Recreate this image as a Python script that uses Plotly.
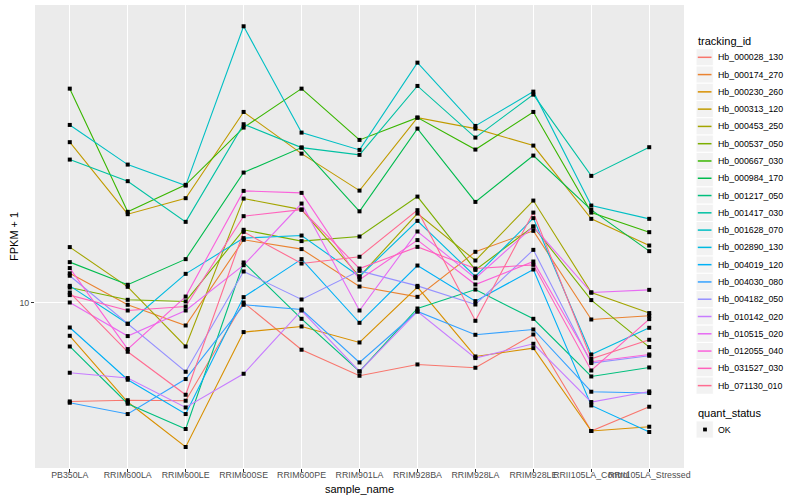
import plotly.graph_objects as go

# ---------------- data ----------------
samples = ["PB350LA", "RRIM600LA", "RRIM600LE", "RRIM600SE", "RRIM600PE", "RRIM901LA",
           "RRIM928BA", "RRIM928LA", "RRIM928LE", "RRII105LA_Control", "RRII105LA_Stressed"]

tracking_ids = ["Hb_000028_130", "Hb_000174_270", "Hb_000230_260", "Hb_000313_120", "Hb_000453_250",
                "Hb_000537_050", "Hb_000667_030", "Hb_000984_170", "Hb_001217_050", "Hb_001417_030",
                "Hb_001628_070", "Hb_002890_130", "Hb_004019_120", "Hb_004030_080", "Hb_004182_050",
                "Hb_010142_020", "Hb_010515_020", "Hb_012055_040", "Hb_031527_030", "Hb_071130_010"]

colors = ["#F8766D", "#EA8331", "#D89000", "#C09B00", "#A3A500", "#7CAE00", "#39B600", "#00BB4E",
          "#00BF7D", "#00C1A3", "#00BFC4", "#00BAE0", "#00B0F6", "#35A2FF", "#9590FF", "#C77CFF",
          "#E76BF3", "#FA62DB", "#FF62BC", "#FF6C91"]

# FPKM + 1 per sample
hb_000028_130 = [5.224, 5.266, 5.248, 10.02, 7.342, 6.186, 6.664, 6.521, 8.118, 4.300, 5.045]
hb_000174_270 = [12.14, 9.869, 8.613, 15.14, 14.24, 11.13, 10.40, 13.99, 16.06, 8.960, 9.181]
hb_000230_260 = [8.048, 5.203, 3.870, 8.247, 8.557, 7.701, 11.09, 7.024, 7.421, 4.300, 4.423]
hb_000313_120 = [28.79, 17.92, 19.91, 35.13, 26.70, 20.93, 33.84, 31.48, 28.15, 17.38, 14.58]
hb_000453_250 = [14.43, 11.11, 7.501, 19.86, 18.47, 11.89, 18.00, 13.21, 19.60, 10.70, 9.345]
hb_000537_050 = [11.06, 10.20, 10.09, 16.17, 15.01, 15.47, 20.12, 12.42, 16.52, 10.18, 7.472]
hb_000667_030 = [40.95, 18.20, 21.74, 31.69, 40.95, 29.22, 33.84, 27.42, 35.13, 18.11, 15.92]
hb_000984_170 = [13.07, 11.26, 13.33, 23.57, 27.78, 18.26, 31.48, 19.43, 26.36, 18.44, 14.05]
hb_001217_050 = [7.501, 5.146, 4.357, 13.04, 9.000, 6.364, 9.632, 10.91, 9.000, 6.158, 6.534]
hb_001417_030 = [25.67, 22.27, 17.04, 32.40, 27.78, 26.48, 41.69, 29.67, 39.37, 23.06, 27.85]
hb_001628_070 = [32.25, 24.84, 21.63, 61.74, 30.66, 27.36, 48.59, 32.04, 40.15, 18.97, 17.38]
hb_002890_130 = [11.18, 8.710, 12.10, 15.31, 15.57, 11.89, 17.15, 11.89, 17.46, 7.117, 8.483]
hb_004019_120 = [8.500, 6.026, 4.808, 10.38, 13.33, 8.766, 12.78, 10.11, 12.45, 5.088, 4.271]
hb_004030_080 = [5.180, 4.808, 6.053, 9.869, 9.569, 6.752, 9.444, 8.101, 8.389, 5.569, 5.521]
hb_004182_050 = [11.95, 8.710, 6.351, 12.29, 10.22, 12.34, 11.18, 9.889, 14.17, 6.725, 7.056]
hb_010142_020 = [6.310, 6.093, 5.022, 6.268, 9.506, 6.364, 9.444, 6.950, 7.636, 5.203, 5.580]
hb_010515_020 = [10.02, 8.032, 9.506, 12.81, 19.22, 9.506, 15.99, 11.76, 16.52, 10.70, 10.89]
hb_012055_040 = [12.57, 7.373, 10.42, 20.89, 20.62, 11.64, 15.11, 11.28, 13.12, 6.784, 7.117]
hb_031527_030 = [10.52, 9.506, 9.760, 17.69, 18.47, 12.53, 14.45, 12.53, 12.84, 6.405, 8.982]
hb_071130_010 = [10.70, 7.244, 5.459, 15.95, 12.95, 13.54, 18.40, 8.883, 18.11, 6.918, 7.840]

series = [hb_000028_130, hb_000174_270, hb_000230_260, hb_000313_120, hb_000453_250,
          hb_000537_050, hb_000667_030, hb_000984_170, hb_001217_050, hb_001417_030,
          hb_001628_070, hb_002890_130, hb_004019_120, hb_004030_080, hb_004182_050,
          hb_010142_020, hb_010515_020, hb_012055_040, hb_031527_030, hb_071130_010]

quant_status = ["OK"]

# ---------------- figure ----------------
W, H = 800, 500
L, R, T, B = 35, 116, 5, 32
PW, PH = W - L - R, H - T - B
FONT = "Liberation Sans, Arial, sans-serif"

fig = go.Figure()

for name, col, vals in zip(tracking_ids, colors, series):
    fig.add_trace(go.Scatter(x=samples, y=vals, mode="lines", name=name,
                             line=dict(color=col, width=1.1), showlegend=False))

all_x = [s for vals in series for s in samples]
all_y = [v for vals in series for v in vals]
fig.add_trace(go.Scatter(x=all_x, y=all_y, mode="markers", name=quant_status[0],
                         marker=dict(symbol="square", size=4, color="black"),
                         showlegend=False))


def pxx(px):
    return (px - L) / PW


def pxy(py):
    return 1 - (py - T) / PH


shapes = []
annotations = []

# axis titles
annotations.append(dict(x=0.5, y=pxy(488.5), xref="paper", yref="paper", text="sample_name",
                        showarrow=False, xanchor="center", yanchor="middle",
                        font=dict(family=FONT, size=11, color="black")))
annotations.append(dict(x=pxx(13.5), y=0.5, xref="paper", yref="paper", text="FPKM + 1",
                        showarrow=False, xanchor="center", yanchor="middle", textangle=-90,
                        font=dict(family=FONT, size=11, color="black")))

# legend: tracking_id
annotations.append(dict(x=pxx(696), y=pxy(41), xref="paper", yref="paper", text="tracking_id",
                        showarrow=False, xanchor="left", yanchor="middle",
                        font=dict(family=FONT, size=11, color="black")))
step = 17.28
for i, (name, col) in enumerate(zip(tracking_ids, colors)):
    yc = 57.3 + i * step
    shapes.append(dict(type="rect", xref="paper", yref="paper",
                       x0=pxx(696), x1=pxx(713.3), y0=pxy(yc - step / 2), y1=pxy(yc + step / 2),
                       fillcolor="#F2F2F2", line=dict(color="white", width=1), layer="above"))
    shapes.append(dict(type="line", xref="paper", yref="paper",
                       x0=pxx(697.8), x1=pxx(711.5), y0=pxy(yc), y1=pxy(yc),
                       line=dict(color=col, width=1.5), layer="above"))
    annotations.append(dict(x=pxx(716.3), y=pxy(yc), xref="paper", yref="paper", text=name,
                            showarrow=False, xanchor="left", yanchor="middle",
                            font=dict(family=FONT, size=8.8, color="black")))

# legend: quant_status
annotations.append(dict(x=pxx(696), y=pxy(412.7), xref="paper", yref="paper", text="quant_status",
                        showarrow=False, xanchor="left", yanchor="middle",
                        font=dict(family=FONT, size=11, color="black")))
yk = 429.5
shapes.append(dict(type="rect", xref="paper", yref="paper",
                   x0=pxx(696), x1=pxx(713.3), y0=pxy(yk - step / 2), y1=pxy(yk + step / 2),
                   fillcolor="#F2F2F2", line=dict(color="white", width=1), layer="above"))
shapes.append(dict(type="rect", xref="paper", yref="paper",
                   x0=pxx(703.1), x1=pxx(706.9), y0=pxy(yk - 1.9), y1=pxy(yk + 1.9),
                   fillcolor="black", line=dict(width=0), layer="above"))
annotations.append(dict(x=pxx(716.3), y=pxy(yk), xref="paper", yref="paper", text=quant_status[0],
                        showarrow=False, xanchor="left", yanchor="middle",
                        font=dict(family=FONT, size=8.8, color="black")))

fig.update_layout(
    width=W, height=H,
    margin=dict(l=L, r=R, t=T, b=B, pad=0, autoexpand=False),
    paper_bgcolor="white", plot_bgcolor="#EBEBEB",
    font=dict(family=FONT, size=9, color="#4D4D4D"),
    showlegend=False, hovermode=False,
    shapes=shapes, annotations=annotations,
    xaxis=dict(type="category", categoryorder="array", categoryarray=samples,
               range=[-0.6, len(samples) - 0.4], automargin=False,
               showgrid=True, gridcolor="white", gridwidth=1.3, zeroline=False, showline=False,
               ticks="outside", ticklen=3, tickwidth=1, tickcolor="#333333", tickangle=0,
               ticklabelstandoff=-5,
               tickfont=dict(family=FONT, size=8.8, color="#4D4D4D")),
    yaxis=dict(type="log", range=[0.5277, 1.8514], tickvals=[10], ticktext=["10"], automargin=False,
               showgrid=True, gridcolor="white", gridwidth=1.3, zeroline=False, showline=False,
               ticks="outside", ticklen=3, tickwidth=1, tickcolor="#333333",
               tickfont=dict(family=FONT, size=8.8, color="#4D4D4D")),
)

fig.write_html("out.html",
               config={"displayModeBar": False, "staticPlot": True},
               post_script="document.body.style.margin='0px';document.body.style.overflow='hidden';")
